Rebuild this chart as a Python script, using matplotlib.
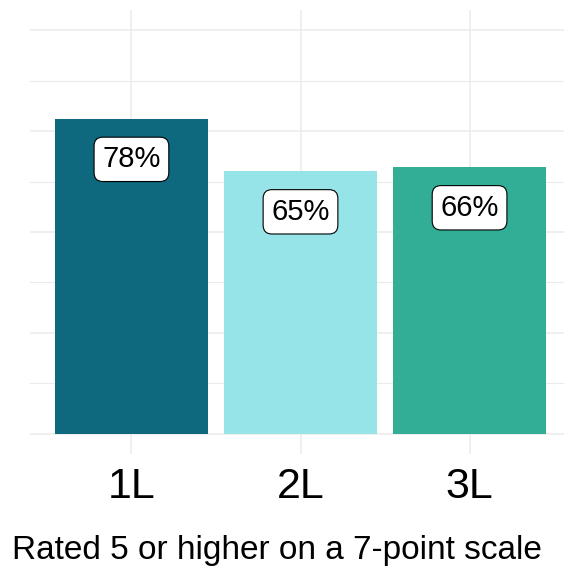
import numpy as np
import matplotlib.pyplot as plt

plt.rcParams['font.family'] = ['Liberation Sans', 'DejaVu Sans']

# data
groups = ['1L', '2L', '3L']
shares = [0.78, 0.65, 0.66]
bar_colors = ['#0E687E', '#96E4E8', '#33AE96']
caption = 'Rated 5 or higher on a 7-point scale'

fig = plt.figure(figsize=(5.64, 5.68), dpi=100)
ax = fig.add_axes([30/564, 114/568, 541/564, 444/568])

x = np.arange(1, len(groups)+1)

# grid like ggplot theme_minimal
for yv in np.arange(0, 1.0001, 0.125):
	major = abs(yv/0.25 - round(yv/0.25)) < 1e-6
	ax.axhline(yv, color='#EBEBEB', lw=1.1 if major else 0.8, zorder=0)
for xv in x:
	ax.axvline(xv, color='#EBEBEB', lw=1.1, zorder=0)

ax.bar(x, shares, width=0.9, color=bar_colors, zorder=2)

for xi, v in zip(x, shares):
	ax.text(xi, v-0.1, '{}%'.format(int(round(v*100))), ha='center', va='center',
		fontsize=21, zorder=3,
		bbox=dict(boxstyle='round,pad=0.28,rounding_size=0.3', fc='white', ec='black', lw=0.8))

ax.set_xlim(0.4, 3.6)
ax.set_ylim(-0.05, 1.05)
ax.set_xticks(x)
ax.set_xticklabels(groups, fontsize=31)
ax.set_yticks([])
ax.tick_params(axis='x', length=0, pad=9)
for s in ax.spines.values():
	s.set_visible(False)

fig.text(12/564, 9/568, caption, fontsize=24, ha='left', va='baseline')

fig.savefig('out.png', dpi=100)
